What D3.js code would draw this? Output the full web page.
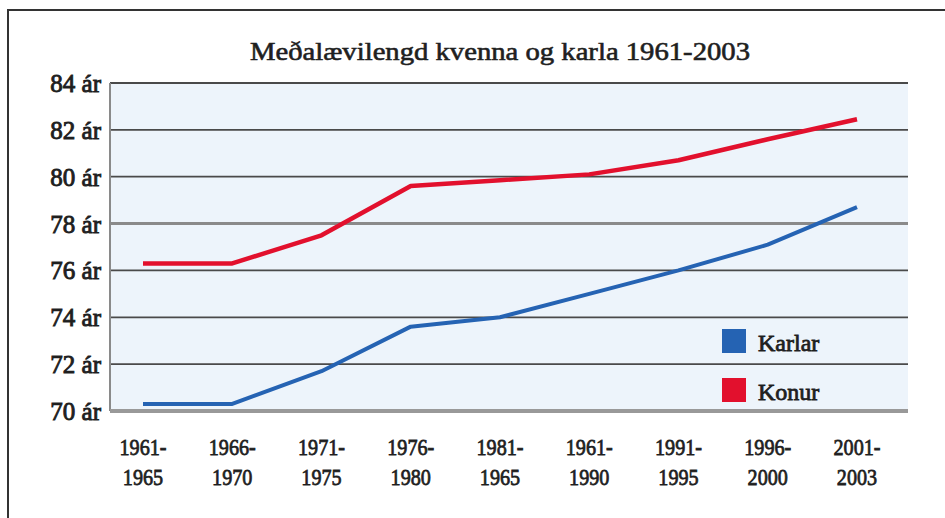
<!DOCTYPE html>
<html>
<head>
<meta charset="utf-8">
<script src="https://cdn.jsdelivr.net/npm/d3@7"></script>
<style>
  body { margin: 0; background: #fff; }
  text { font-family: "Liberation Serif", "DejaVu Serif", serif; fill: #1f1f1f; stroke: #1f1f1f; }
</style>
</head>
<body>
<div id="chart"></div>
<script>
// Data
var periodTop = ["1961-", "1966-", "1971-", "1976-", "1981-", "1961-", "1991-", "1996-", "2001-"];
var periodBottom = ["1965", "1970", "1975", "1980", "1965", "1990", "1995", "2000", "2003"];
var karlar = [70.3, 70.3, 71.7, 73.6, 74.0, 75.0, 76.0, 77.1, 78.7];
var konur = [76.3, 76.3, 77.5, 79.6, 79.85, 80.1, 80.7, 81.6, 82.45];
var yTicks = [70, 72, 74, 76, 78, 80, 82, 84];
var seriesNames = ["Karlar", "Konur"];

var svgWidth = 945;
var svgHeight = 518;

var margin = { top: 83, right: 37, bottom: 107, left: 110 };
var width = svgWidth - margin.left - margin.right;
var height = svgHeight - margin.top - margin.bottom;

var svg = d3.select("#chart")
  .append("svg")
  .attr("width", svgWidth)
  .attr("height", svgHeight);

// outer frame (left and top edges visible)
svg.append("path")
  .attr("d", "M8,518V10H945")
  .attr("fill", "none")
  .attr("stroke", "#333")
  .attr("stroke-width", 2);

// title
svg.append("text")
  .attr("x", 500)
  .attr("y", 60)
  .attr("text-anchor", "middle")
  .attr("textLength", 500)
  .attr("lengthAdjust", "spacingAndGlyphs")
  .style("font-size", "25px")
  .style("stroke-width", "0.6px")
  .text("Meðalævilengd kvenna og karla 1961-2003");

var chartGroup = svg.append("g")
  .attr("transform", `translate(${margin.left}, ${margin.top})`);

var idx = d3.range(periodTop.length);

var xScale = d3.scalePoint()
  .domain(idx)
  .range([33, width - 51]);

var yScale = d3.scaleLinear()
  .domain([70, 84])
  .range([height, 0]);

// plot background
chartGroup.append("rect")
  .attr("width", width)
  .attr("height", height)
  .attr("fill", "#edf4fb");

// gridlines
chartGroup.selectAll(".grid")
  .data(yTicks.filter(d => d > 70))
  .enter()
  .append("line")
  .attr("class", "grid")
  .attr("x1", 0)
  .attr("x2", width)
  .attr("y1", d => yScale(d))
  .attr("y2", d => yScale(d))
  .attr("stroke", d => d === 78 ? "#8a8a8a" : "#4a4a4a")
  .attr("stroke-width", d => d === 78 ? 3 : 1.8);

// left axis line
chartGroup.append("line")
  .attr("x1", 0).attr("x2", 0)
  .attr("y1", 0).attr("y2", height)
  .attr("stroke", "#8a8a8a")
  .attr("stroke-width", 2);

// bottom axis line
chartGroup.append("line")
  .attr("x1", 0).attr("x2", width)
  .attr("y1", height).attr("y2", height)
  .attr("stroke", "#999")
  .attr("stroke-width", 4);

// y labels
chartGroup.selectAll(".ylab")
  .data(yTicks)
  .enter()
  .append("text")
  .attr("class", "ylab")
  .attr("x", -9)
  .attr("y", d => yScale(d) + 9)
  .attr("text-anchor", "end")
  .style("font-size", "25px")
  .style("stroke-width", "0.9px")
  .text(d => d + " ár");

// x labels (two lines, narrow)
var xLab = chartGroup.selectAll(".xlab")
  .data(idx)
  .enter()
  .append("g")
  .attr("class", "xlab")
  .attr("transform", d => `translate(${xScale(d)}, 0)`);

xLab.append("text")
  .attr("y", height + 44)
  .attr("text-anchor", "middle")
  .text(d => periodTop[d]);

xLab.append("text")
  .attr("y", height + 74)
  .attr("text-anchor", "middle")
  .text(d => periodBottom[d]);

xLab.selectAll("text")
  .style("font-size", "24px")
  .style("stroke-width", "0.8px")
  .each(function () {
    var w = this.getComputedTextLength();
    d3.select(this)
      .attr("textLength", w * 0.84)
      .attr("lengthAdjust", "spacingAndGlyphs");
  });

// lines
var line = d3.line()
  .x((d, i) => xScale(i))
  .y(d => yScale(d));

var colors = { Karlar: "#2563b3", Konur: "#e2102d" };

chartGroup.append("path")
  .datum(konur)
  .attr("d", line)
  .attr("fill", "none")
  .attr("stroke", colors.Konur)
  .attr("stroke-width", 4.5)
  .attr("stroke-linejoin", "round");

chartGroup.append("path")
  .datum(karlar)
  .attr("d", line)
  .attr("fill", "none")
  .attr("stroke", colors.Karlar)
  .attr("stroke-width", 4)
  .attr("stroke-linejoin", "round");

// legend
var legend = chartGroup.selectAll(".legend")
  .data(seriesNames)
  .enter()
  .append("g")
  .attr("class", "legend")
  .attr("transform", (d, i) => `translate(${612}, ${246 + i * 49})`);

legend.append("rect")
  .attr("width", 24)
  .attr("height", 24)
  .attr("fill", d => colors[d]);

legend.append("text")
  .attr("x", 36)
  .attr("y", 22)
  .style("font-size", "24px")
  .style("stroke-width", "0.8px")
  .text(d => d);
</script>
</body>
</html>
